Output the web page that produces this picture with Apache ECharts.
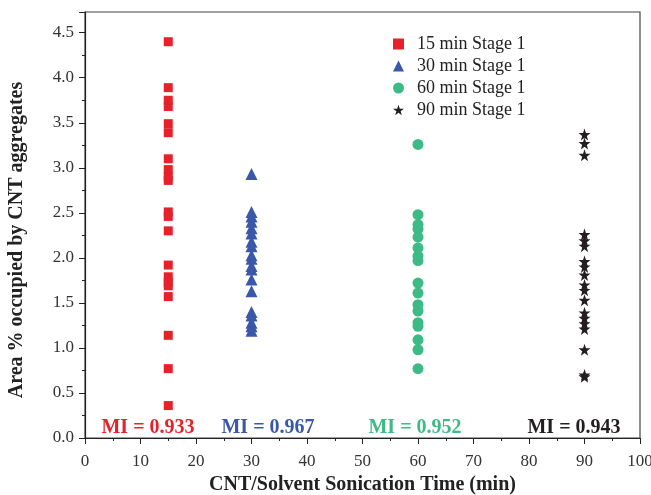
<!DOCTYPE html>
<html><head><meta charset="utf-8">
<script src="https://cdn.jsdelivr.net/npm/echarts@6/dist/echarts.min.js"></script>
<style>html,body{margin:0;padding:0;background:#fff}#c{width:651px;height:495px}</style>
</head><body><div id="c"></div>
<script>
const seriesNames = ['15 min Stage 1','30 min Stage 1','60 min Stage 1','90 min Stage 1'];
const times = [15, 30, 60, 90];
const vals15 = [4.4,3.89,3.75,3.68,3.49,3.39,3.1,2.98,2.9,2.86,2.51,2.46,2.3,1.92,1.79,1.73,1.69,1.57,1.14,0.77,0.36];
const vals30 = [2.93,2.51,2.46,2.4,2.33,2.27,2.18,2.13,2.03,1.99,1.91,1.87,1.76,1.63,1.4,1.36,1.28,1.24,1.19];
const vals60 = [3.26,2.48,2.37,2.32,2.23,2.11,2.02,1.97,1.72,1.61,1.48,1.41,1.28,1.24,1.09,0.98,0.77];
const vals90 = [3.37,3.27,3.14,2.26,2.19,2.13,1.96,1.9,1.81,1.7,1.64,1.53,1.39,1.33,1.27,1.21,0.98,0.7,0.68];
const miLabels = ['MI = 0.933','MI = 0.967','MI = 0.952','MI = 0.943'];
const colors = ['#e62129','#3b58a8','#3dbb86','#231f20'];
const symbols = ['rect','triangle','circle','path://M50,0 L61.8,35.1 L98.6,35.1 L68.8,56.9 L79.4,91.9 L50,70.5 L20.6,91.9 L31.2,56.9 L1.4,35.1 L38.2,35.1 Z'];
const sizes = [9, 12, 11, 12];
const allVals = [vals15, vals30, vals60, vals90];

const font = 'Liberation Serif, Times New Roman, serif';
const chart = echarts.init(document.getElementById('c'));
const series = allVals.map((v, i) => ({
  name: seriesNames[i],
  type: 'scatter',
  symbol: symbols[i],
  symbolSize: sizes[i],
  itemStyle: {color: colors[i], opacity: 1},
  data: v.map(y => [times[i], y]),
  z: 3
}));
chart.setOption({
  animation: false,
  grid: {left: 85, right: 11, top: 12, bottom: 57, show: true, borderColor: '#444', borderWidth: 1.2,
    containLabel: false, outerBoundsMode: 'none'},
  legend: {
    orient: 'vertical', left: 388, top: 30, itemGap: 4, itemWidth: 11, itemHeight: 11,
    textStyle: {fontFamily: font, fontSize: 18, color: '#222', padding: [0,0,0,8]},
    data: seriesNames
  },
  xAxis: {
    type: 'value', min: 0, max: 100, interval: 10,
    name: 'CNT/Solvent Sonication Time (min)', nameLocation: 'middle', nameGap: 36,
    nameTextStyle: {fontFamily: font, fontSize: 20, fontWeight: 'bold', color: '#222'},
    axisLine: {show: true, lineStyle: {color: '#222', width: 1.2}},
    axisTick: {show: true, length: 6, lineStyle: {color: '#222'}},
    minorTick: {show: true, splitNumber: 2, length: 3, lineStyle: {color: '#222'}},
    splitLine: {show: false},
    axisLabel: {fontFamily: font, fontSize: 17, color: '#333', margin: 15}
  },
  yAxis: {
    type: 'value', min: 0, max: 4.73, interval: 0.5,
    name: 'Area % occupied by CNT aggregates', nameLocation: 'middle', nameGap: 58,
    nameTextStyle: {fontFamily: font, fontSize: 20, fontWeight: 'bold', color: '#222', padding: [0, 30, 0, 0]},
    axisLine: {show: true, lineStyle: {color: '#222', width: 1.2}},
    axisTick: {show: true, length: 6, lineStyle: {color: '#222'}},
    minorTick: {show: true, splitNumber: 2, length: 3, lineStyle: {color: '#222'}},
    splitLine: {show: false},
    axisLabel: {fontFamily: font, fontSize: 17, color: '#333', margin: 11, showMaxLabel: false,
      formatter: v => v.toFixed(1)}
  },
  series: series
});
const miX = [148, 268, 415, 574];
chart.setOption({
  graphic: miLabels.map((t, i) => ({
    type: 'text', x: miX[i], y: 428,
    style: {text: t, fill: colors[i], font: 'bold 20px ' + font, textAlign: 'center', textVerticalAlign: 'middle'}
  }))
});
</script></body></html>
